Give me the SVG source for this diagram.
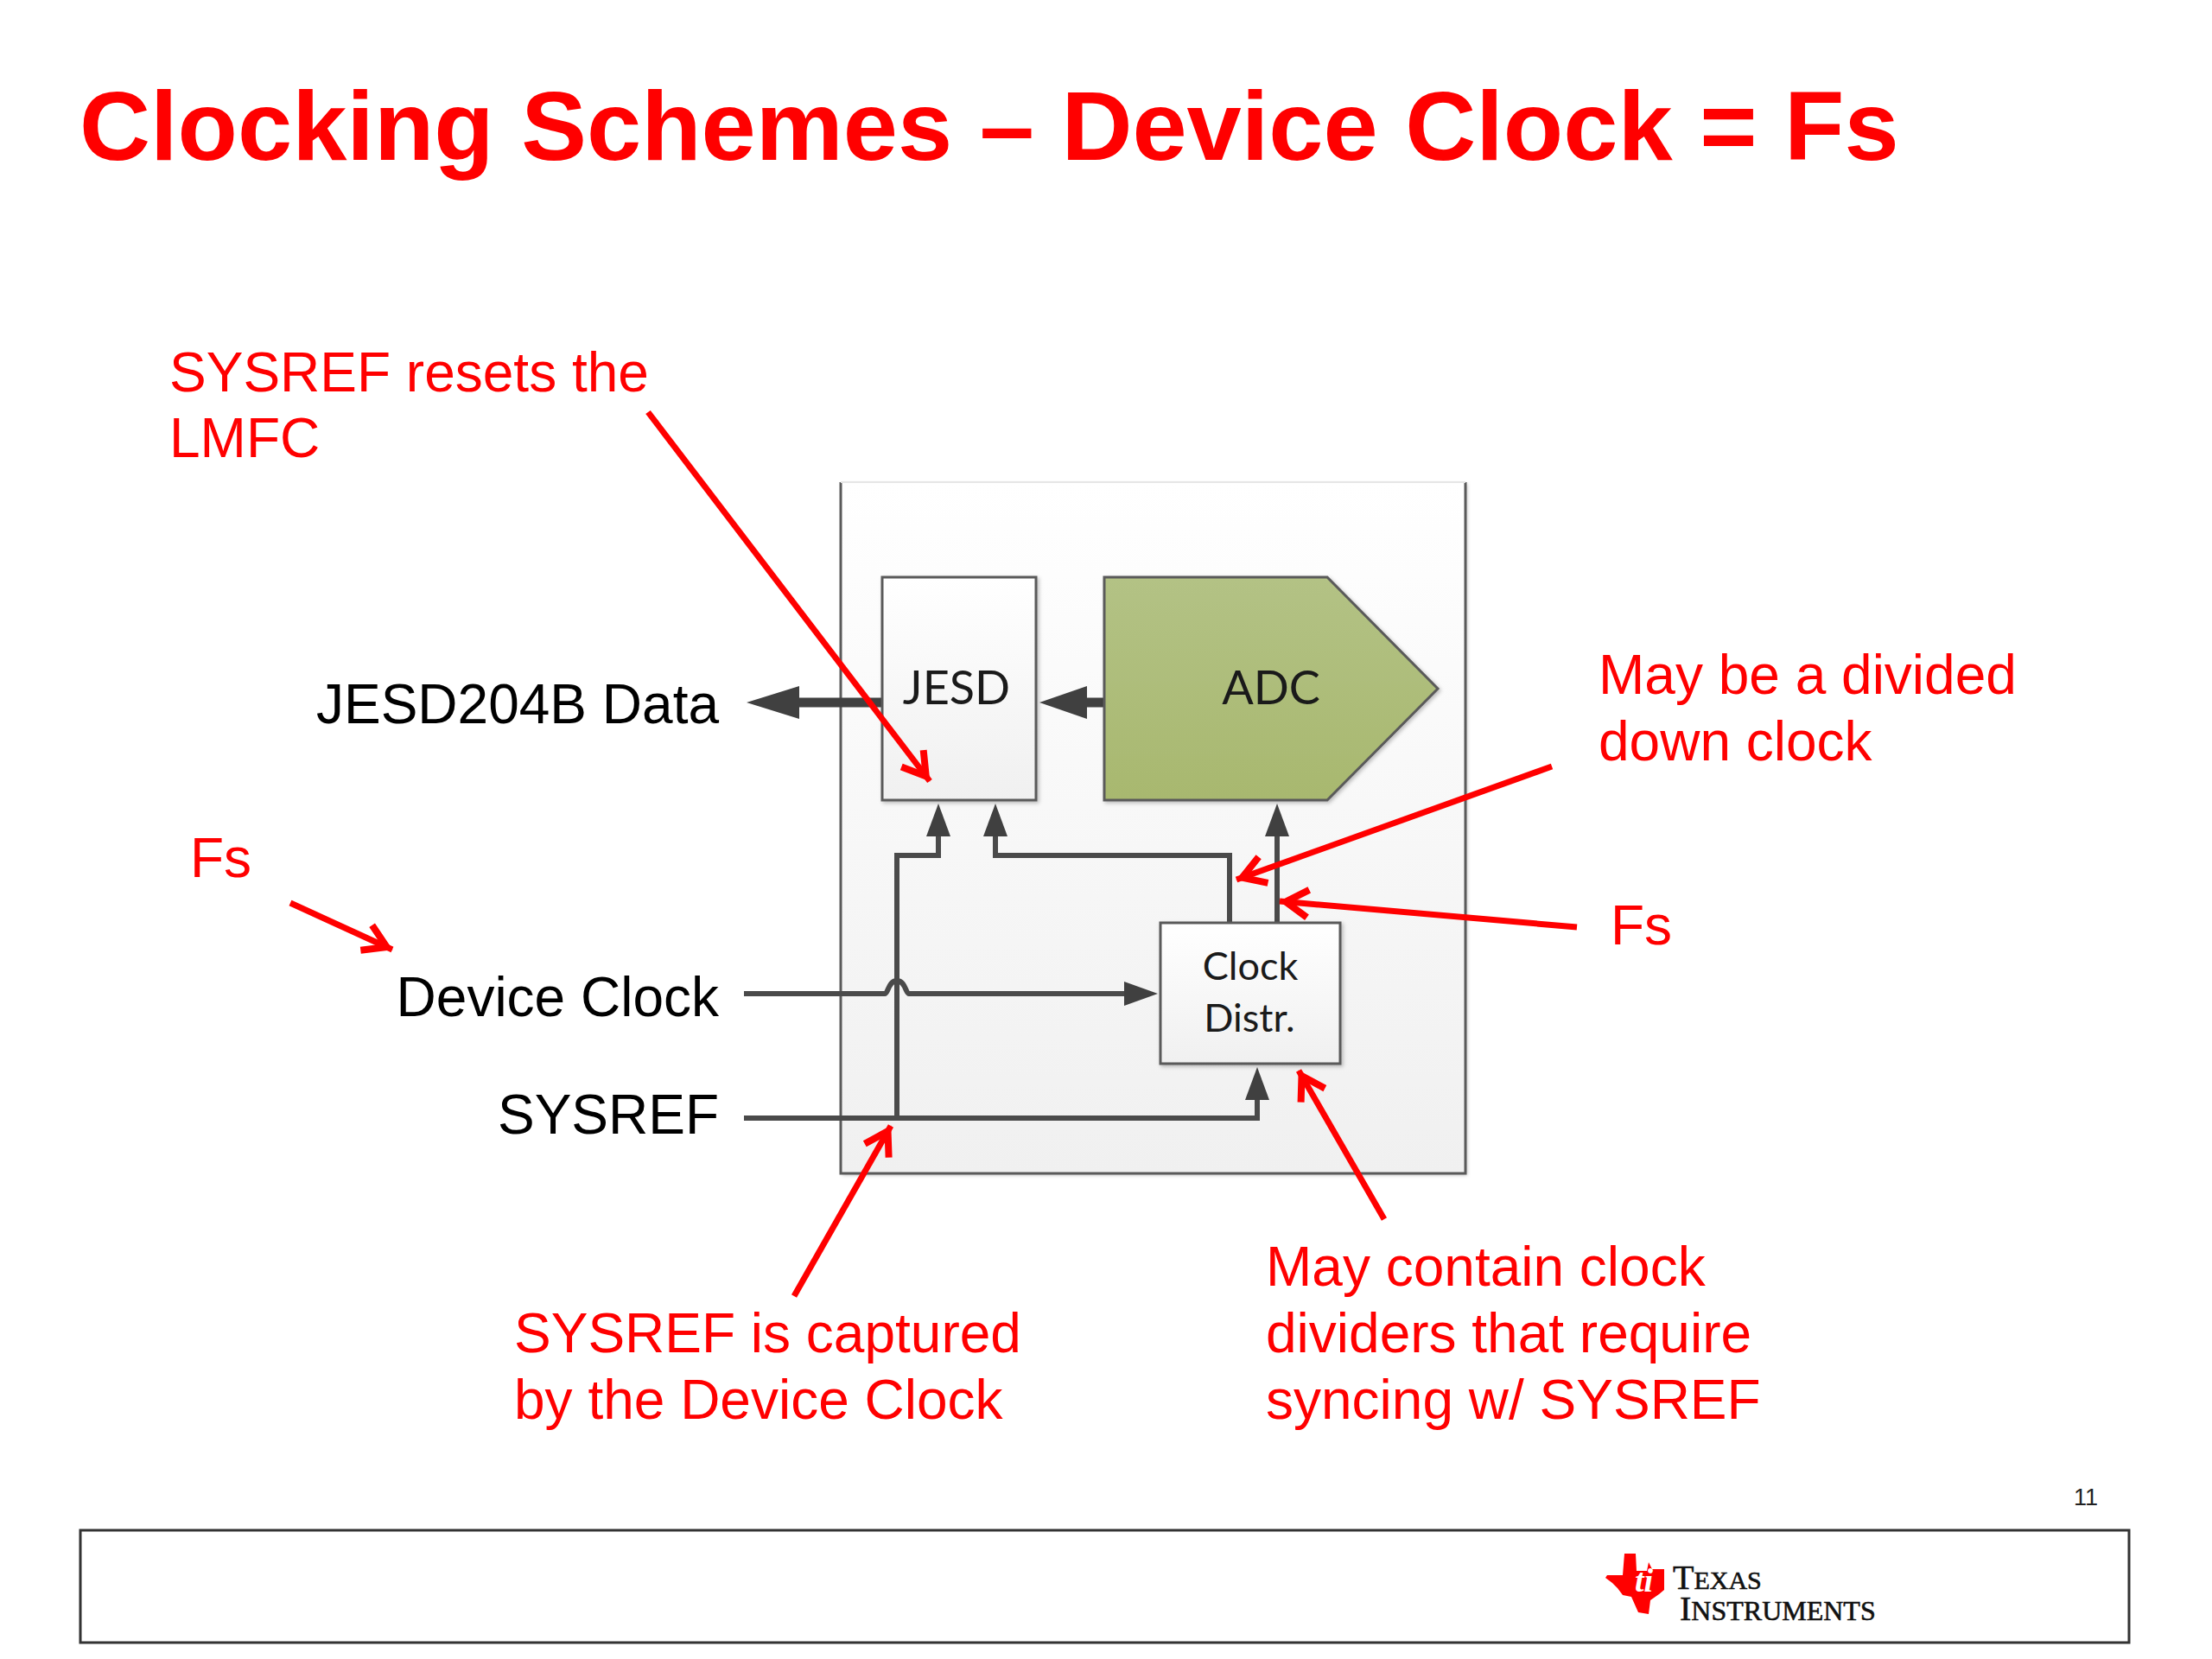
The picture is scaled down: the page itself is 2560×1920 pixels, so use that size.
<svg xmlns="http://www.w3.org/2000/svg" width="2560" height="1920" viewBox="0 0 2560 1920">
<defs>
<linearGradient id="gPanel" x1="0" y1="0" x2="0" y2="1"><stop offset="0" stop-color="#ffffff"/><stop offset="1" stop-color="#f0f0f0"/></linearGradient>
<linearGradient id="gGreen" x1="0" y1="0" x2="0" y2="1"><stop offset="0" stop-color="#b3c285"/><stop offset="1" stop-color="#a8b86f"/></linearGradient>
<filter id="sh" x="-5%" y="-5%" width="112%" height="112%"><feDropShadow dx="2" dy="2" stdDeviation="2" flood-color="#000" flood-opacity="0.25"/></filter>
<marker id="redHead" markerUnits="userSpaceOnUse" markerWidth="50" markerHeight="50" refX="39" refY="20" orient="auto" overflow="visible">
<path d="M6 4 L32 20 L6 36" fill="none" stroke="#ff0000" stroke-width="8"/>
</marker>
</defs>
<style>
.t{font-family:"Liberation Sans",Arial,sans-serif}
.red{fill:#ff0000;font-size:64px}
.blk{fill:#000;font-size:64px;text-anchor:end}
.in{font-family:Lato,"Open Sans",sans-serif;fill:#1a1a1a}
.box{stroke:#5a5a5a;stroke-width:3;fill:url(#gPanel);filter:url(#sh)}
.w{fill:none;stroke:#4a4a4a;stroke-width:6}
.wt{fill:none;stroke:#404040;stroke-width:11}
.h{fill:#404040}
.ra{fill:none;stroke:#ff0000;stroke-width:7;marker-end:url(#redHead)}
.logo{font-family:"Liberation Serif",serif;fill:#111;stroke:#111;stroke-width:0.6;font-size:40px}
</style>
<rect width="2560" height="1920" fill="#ffffff"/>
<text id="title" class="t" x="92" y="185" font-size="113.6" font-weight="700" fill="#ff0000">Clocking Schemes – Device Clock = Fs</text>

<g id="panel">
<rect x="973" y="558" width="723" height="800" fill="url(#gPanel)" filter="url(#sh)"/>
<path d="M973 558V1358H1696V558" fill="none" stroke="#5a5a5a" stroke-width="3"/>
<path d="M973 558H1696" fill="none" stroke="#e6e6e6" stroke-width="2"/>
</g>

<g id="connectors">
<path class="wt" d="M1021 813H920"/><polygon class="h" points="864,813 925,794 925,832"/>
<path class="wt" d="M1278 813H1250"/><polygon class="h" points="1203,813 1258,794 1258,832"/>
<path class="w" d="M861 1150H1024C1028 1150 1028 1135 1038 1135C1048 1135 1048 1150 1052 1150H1305"/><polygon class="h" points="1340,1150 1301,1136 1301,1164"/>
<path class="w" d="M861 1294H1455V1265"/><polygon class="h" points="1455,1235 1441,1273 1469,1273"/>
<path class="w" d="M1038 1294V990H1086V960"/><polygon class="h" points="1086,930 1072,968 1100,968"/>
<path class="w" d="M1423 1068V990H1152V960"/><polygon class="h" points="1152,930 1138,968 1166,968"/>
<path class="w" d="M1478 1068V960"/><polygon class="h" points="1478,930 1464,968 1492,968"/>
</g>

<g id="jesd"><rect class="box" x="1021" y="668" width="178" height="258"/><text class="in" x="1107" y="815" font-size="54" text-anchor="middle">JESD</text></g>
<g id="adc"><polygon points="1278,668 1536,668 1664,797 1536,926 1278,926" fill="url(#gGreen)" stroke="#5a5a5a" stroke-width="3" filter="url(#sh)"/><text class="in" x="1471" y="815" font-size="54" text-anchor="middle">ADC</text></g>
<g id="clock-distr"><rect class="box" x="1343" y="1068" width="208" height="163"/><text class="in" x="1447" y="1134" font-size="45" text-anchor="middle">Clock</text><text class="in" x="1446" y="1194" font-size="45" text-anchor="middle">Distr.</text></g>

<g id="signal-labels">
<text class="t blk" x="832" y="837">JESD204B Data</text>
<text class="t blk" x="832" y="1176">Device Clock</text>
<text class="t blk" x="832" y="1312">SYSREF</text>
</g>

<g id="annotations">
<text class="t red" x="196" y="453">SYSREF resets the</text>
<text class="t red" x="196" y="529">LMFC</text>
<text class="t red" x="1850" y="803">May be a divided</text>
<text class="t red" x="1850" y="880">down clock</text>
<text class="t red" x="220" y="1015">Fs</text>
<text class="t red" x="1864" y="1093">Fs</text>
<text class="t red" x="595" y="1565">SYSREF is captured</text>
<text class="t red" x="595" y="1642">by the Device Clock</text>
<text class="t red" x="1465" y="1488">May contain clock</text>
<text class="t red" x="1465" y="1565">dividers that require</text>
<text class="t red" x="1465" y="1642">syncing w/ SYSREF</text>
<line class="ra" x1="750" y1="477" x2="1076" y2="904"/>
<line class="ra" x1="336" y1="1045" x2="454" y2="1099"/>
<line class="ra" x1="1796" y1="887" x2="1431" y2="1018"/>
<line class="ra" x1="1825" y1="1073" x2="1481" y2="1043"/>
<line class="ra" x1="1602" y1="1411" x2="1503" y2="1239"/>
<line class="ra" x1="919" y1="1500" x2="1031" y2="1303"/>
</g>

<g id="footer">
<text class="t" x="2400" y="1742" font-size="27" fill="#222">11</text>
<path d="M93 1771H2464V1901H93Z" fill="none" stroke="#333" stroke-width="3"/>
</g>
<g id="ti-logo">
<polygon points="1880,1798 1893,1798 1894,1818 1906,1818 1908,1808 1912,1816 1926,1816 1926,1840 1920,1845 1910,1852 1908,1868 1896,1866 1888,1848 1878,1846 1872,1838 1866,1832 1858,1826 1860,1823 1878,1823" fill="#ff0000"/>
<text x="1892" y="1842" font-family="'Liberation Serif',serif" font-style="italic" font-weight="700" font-size="38" fill="#ffffff">ti</text>
<text class="logo" x="1936" y="1839">T<tspan font-size="30">EXAS</tspan></text>
<text class="logo" x="1944" y="1875">I<tspan font-size="32">NSTRUMENTS</tspan></text>
</g>
</svg>
